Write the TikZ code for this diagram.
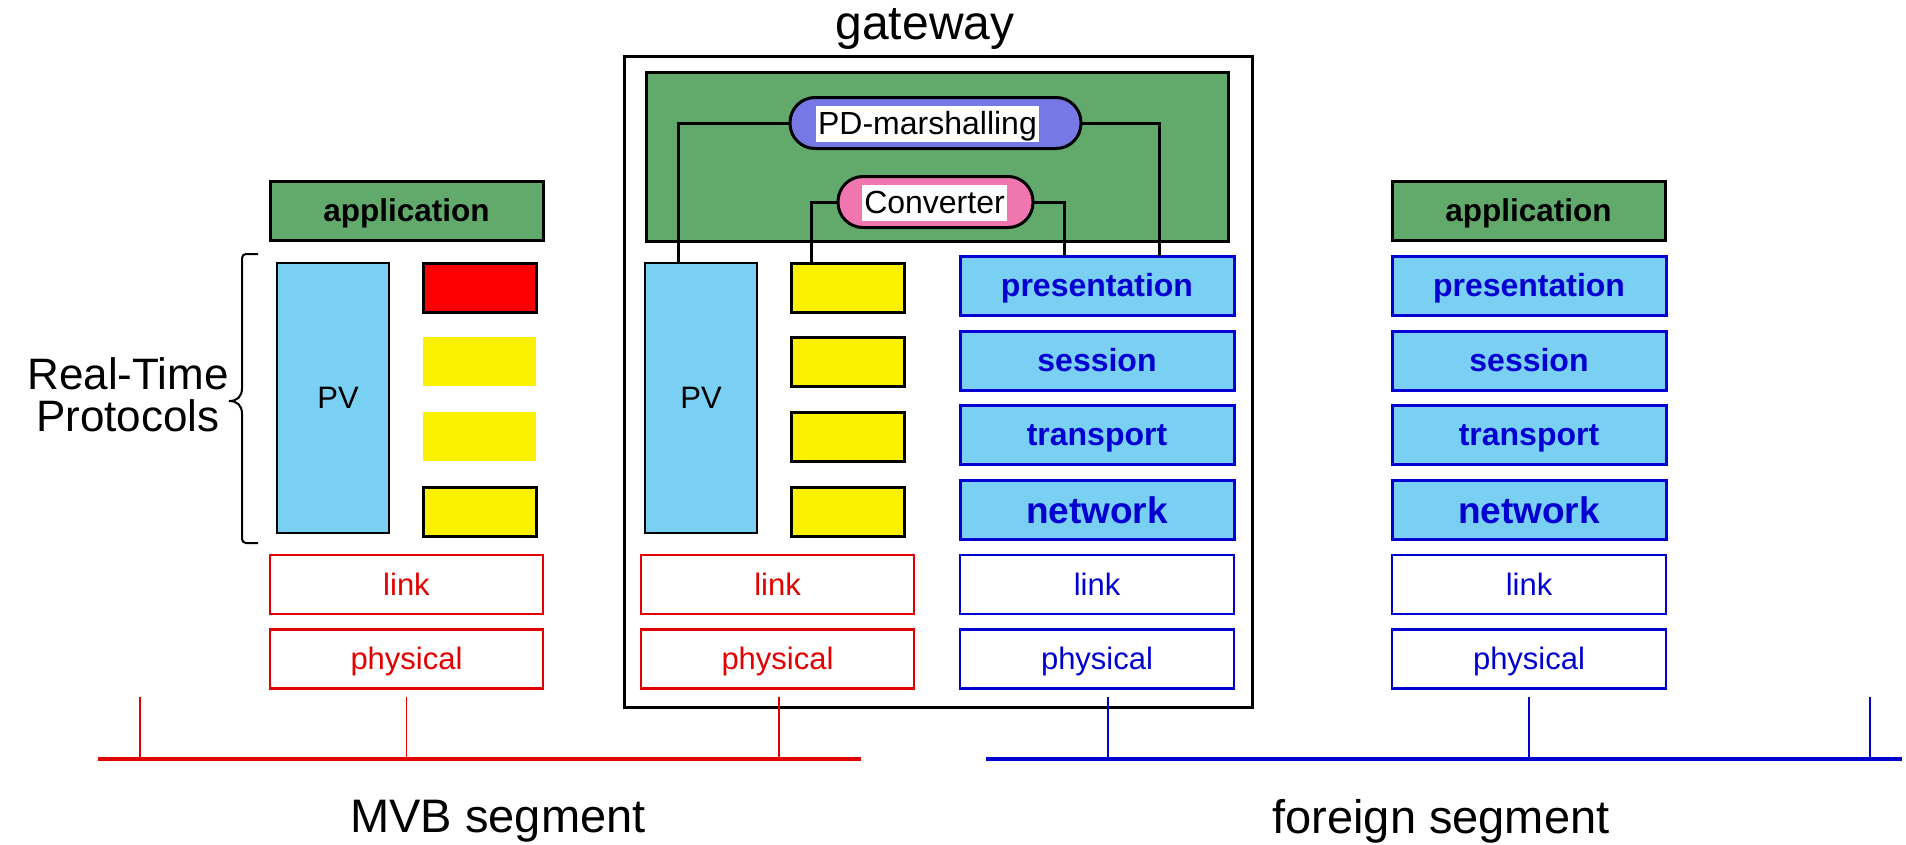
\documentclass[tikz,border=0pt]{standalone}
\usepackage{fontspec}
\setmainfont{Liberation Sans}

\definecolor{appgreen}{RGB}{98,170,108}
\definecolor{pvblue}{RGB}{122,208,242}
\definecolor{pdblue}{RGB}{118,120,230}
\definecolor{convpink}{RGB}{240,118,176}
\definecolor{slotyellow}{RGB}{252,242,0}
\definecolor{mvbred}{RGB}{226,0,0}
\definecolor{osiblue}{RGB}{0,0,210}

\tikzset{
  every node/.style={inner sep=0pt, outer sep=0pt},
  big/.style={font=\fontsize{48}{42}\selectfont},
  seglabel/.style={font=\fontsize{47}{42}\selectfont},
  lay/.style={rectangle, anchor=north west, minimum height=59pt, line width=3pt,
              text height=26pt, text depth=5pt},
  app/.style={lay, draw=black, fill=appgreen, minimum width=273pt,
              font=\fontsize{31.5}{36}\selectfont\bfseries},
  osi/.style={lay, draw=osiblue, fill=pvblue, text=osiblue, minimum width=274pt,
              font=\fontsize{32}{36}\selectfont\bfseries},
  osinet/.style={osi, font=\fontsize{37}{42}\selectfont\bfseries,
              text height=30pt, text depth=4pt},
  lowblue/.style={lay, draw=osiblue, fill=white, text=osiblue, minimum width=274pt,
              line width=2.6pt, font=\fontsize{31}{36}\selectfont},
  lowred/.style={lay, draw=mvbred, fill=white, text=mvbred, minimum width=273pt,
              line width=2.6pt, font=\fontsize{31}{36}\selectfont},
  pvbox/.style={rectangle, anchor=north west, draw=black, fill=pvblue, line width=2.6pt,
              minimum width=112pt, minimum height=270pt, font=\fontsize{31}{36}\selectfont},
  slot/.style={rectangle, anchor=north west, fill=slotyellow, minimum width=113pt,
              minimum height=49pt},
  slotb/.style={slot, draw=black, line width=3pt},
  pill/.style={rectangle, rounded corners=25pt, draw=black, line width=3pt,
              minimum height=51pt},
  pilltext/.style={fill=white, inner xsep=2pt, inner ysep=2pt,
              text height=27pt, text depth=5pt, font=\fontsize{32}{36}\selectfont},
  wire/.style={draw=black, line width=3pt},
  bracket/.style={draw=black, line width=2pt},
  redbus/.style={draw=mvbred, line width=3.5pt},
  bluebus/.style={draw=osiblue, line width=3.5pt},
  redtick/.style={draw=mvbred, line width=1.8pt},
  bluetick/.style={draw=osiblue, line width=1.8pt},
}

\begin{document}
\begin{tikzpicture}[x=1pt, y=-1pt]
\useasboundingbox (0,0) rectangle (1906,844);

% ---------- gateway frame and its upper part ----------
\node[big] (gwlabel) at (925,29) {gateway};
\node[rectangle, anchor=north west, draw=black, line width=3pt,
      minimum width=628pt, minimum height=651pt] (gw) at (624,56) {};
\node[rectangle, anchor=north west, draw=black, fill=appgreen, line width=3pt,
      minimum width=582pt, minimum height=169pt] (gwapp) at (646,72) {};

\node[pill, fill=pdblue, minimum width=291pt] (pd) at (935.5,123) {};
\node[pilltext] (pdtext) at (927.5,123.5) {PD-marshalling};
\node[pill, fill=convpink, minimum width=195pt] (conv) at (935.5,202) {};
\node[pilltext] (convtext) at (934.5,202.5) {Converter};

% ---------- left station (MVB only) ----------
\node[app] (lapp) at (270,181) {application\hspace{13pt}};
\node[pvbox] (lpv) at (277,263) {\hspace{10pt}PV};
\node[slot, fill=red, draw=black, line width=3pt] (ls1) at (423,263) {};
\node[slot] (ls2) at (423,337) {};
\node[slot] (ls3) at (423,412) {};
\node[slotb] (ls4) at (423,487) {};
\node[lowred] (llink) at (270,555) {link};
\node[lowred] (lphys) at (270,629.5) {physical};

% bracket over the real-time part of the stack
\draw[bracket, rounded corners=4pt] (258,254) -- (242,254) -- (242,388);
\draw[bracket] (242,388) .. controls (242,397) and (237,401) .. (229,401)
               .. controls (237,401) and (242,405) .. (242,414);
\draw[bracket, rounded corners=4pt] (242,414) -- (242,543) -- (258,543);
\node[font=\fontsize{44}{42}\selectfont, align=center] (rtp) at (128,395) {Real-Time\\Protocols};

% ---------- gateway, MVB side ----------
\node[pvbox] (gpv) at (645,263) {PV};
\node[slotb] (gs1) at (791,263) {};
\node[slotb] (gs2) at (791,337) {};
\node[slotb] (gs3) at (791,412) {};
\node[slotb] (gs4) at (791,487) {};
\node[lowred] (glink) at (641,555) {link};
\node[lowred] (gphys) at (641,629.5) {physical};

% ---------- gateway, foreign side ----------
\node[osi] (gpres) at (960,256) {presentation\hspace{20pt}};
\node[osi] (gsess) at (960,331) {session\hspace{6pt}};
\node[osi] (gtrans) at (960,405.5) {transport};
\node[osinet] (gnet) at (960,480.5) {network};
\node[lowblue] (gflink) at (960,555) {link};
\node[lowblue] (gfphys) at (960,629.5) {physical};

% ---------- right station (foreign only) ----------
\node[app] (rapp) at (1392,181) {application\hspace{13pt}};
\node[osi] (rpres) at (1392,256) {presentation\hspace{20pt}};
\node[osi] (rsess) at (1392,331) {session\hspace{6pt}};
\node[osi] (rtrans) at (1392,405.5) {transport};
\node[osinet] (rnet) at (1392,480.5) {network};
\node[lowblue] (rlink) at (1392,555) {link};
\node[lowblue] (rphys) at (1392,629.5) {physical};

% ---------- wiring between the gateway functions and the stacks ----------
\draw[wire] (pd.west) -| (gpv.north -| 678,0);
\draw[wire] (pd.east) -| (gpres.north -| 1159,0);
\draw[wire] (conv.west) -| (gs1.north -| 811,0);
\draw[wire] (conv.east) -| (gpres.north -| 1064,0);

% ---------- bus segments ----------
\coordinate (mvbL) at (98,759);
\coordinate (mvbR) at (861,759);
\coordinate (forL) at (986,759);
\coordinate (forR) at (1902,759);
\draw[redbus] (mvbL) -- (mvbR);
\draw[bluebus] (forL) -- (forR);

\coordinate (t1) at (140,697);
\coordinate (t2) at (lphys.south |- t1);
\coordinate (t3) at (779,697);
\coordinate (t4) at (1108,697);
\coordinate (t5) at (rphys.south |- t1);
\coordinate (t6) at (1870,697);
\draw[redtick] (t1) -- (t1 |- mvbL);
\draw[redtick] (t2) -- (t2 |- mvbL);
\draw[redtick] (t3) -- (t3 |- mvbL);
\draw[bluetick] (t4) -- (t4 |- forL);
\draw[bluetick] (t5) -- (t5 |- forL);
\draw[bluetick] (t6) -- (t6 |- forL);

\node[seglabel] (mvblabel) at (498,821) {MVB segment};
\node[seglabel] (forlabel) at (1441,821) {foreign segment};
\end{tikzpicture}
\end{document}
